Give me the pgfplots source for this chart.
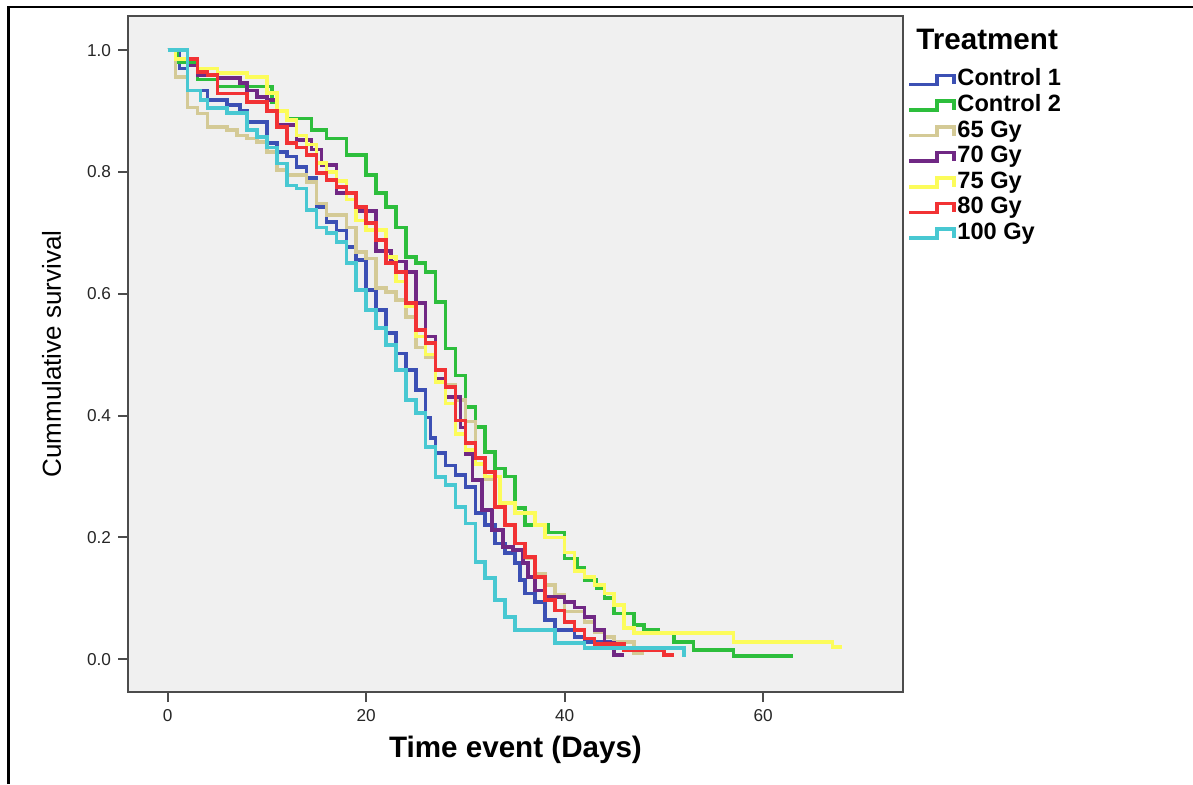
\documentclass[border=0pt]{standalone}
\usepackage{pgfplots}
\pgfplotsset{compat=1.18}
\usepackage{fontspec}
\setmainfont{Liberation Sans}
\definecolor{cA}{RGB}{60,80,180}
\definecolor{cB}{RGB}{45,190,60}
\definecolor{cC}{RGB}{212,202,150}
\definecolor{cD}{RGB}{112,40,132}
\definecolor{cE}{RGB}{252,252,90}
\definecolor{cF}{RGB}{242,50,52}
\definecolor{cG}{RGB}{72,200,210}
\definecolor{bgc}{RGB}{240,240,240}
\pgfplotsset{
  km/.style={const plot, line width=1.8pt, line join=miter,
    legend image code/.code={\draw[##1, line width=1.8pt] (0pt,-2.2pt) -- (14pt,-2.2pt) -- (14pt,2.2pt) -- (22.5pt,2.2pt) -- (22.5pt,-2.2pt);}},
}
\begin{document}
\begin{tikzpicture}
\useasboundingbox (0pt,0pt) rectangle (596.5pt,392pt);
\draw[line width=1.2pt] (4.3pt,0pt) -- (4.3pt,388.6pt) -- (596.5pt,388.6pt);
\begin{axis}[
  at={(64pt,46pt)}, anchor=south west,
  scale only axis, width=387.5pt, height=338pt,
  xmin=-4, xmax=74.1, ymin=-0.054, ymax=1.056,
  xtick={0,20,40,60}, ytick={0,0.2,0.4,0.6,0.8,1.0},
  yticklabel style={/pgf/number format/.cd, fixed, fixed zerofill, precision=1},
  /pgf/number format/assume math mode=true,
  ticklabel style={font=\fontsize{8.6}{10}\selectfont, color=black!85},
  tick align=outside, tick pos=left, major tick length=5pt,
  tick style={line width=1pt, black!70},
  axis line style={line width=1pt, black!70},
  axis background/.style={fill=bgc},
  xlabel={Time event (Days)}, ylabel={Cummulative survival},
  x label style={at={(axis description cs:0.5,-0.0858)}, anchor=center, font=\bfseries\fontsize{14.8}{16}\selectfont},
  y label style={at={(axis description cs:-0.0985,0.5)}, anchor=center, font=\fontsize{13}{15}\selectfont},
  legend style={at={(1.005,0.925)}, anchor=north west, draw=none, fill=none,
    font=\bfseries\fontsize{11.8}{13}\selectfont, row sep=0pt, inner sep=0pt,
    nodes={inner sep=0.8pt, text height=8.6pt, text depth=2.6pt},
    /tikz/every even column/.append style={column sep=0pt}},
  legend cell align=left,
  clip=false,
]
\addplot[km, color=cA] coordinates {(0,1.0) (1.2,0.97) (2,0.934) (4,0.918) (6,0.91) (7.3,0.90) (8,0.882) (10,0.847) (11,0.833) (12,0.825) (13,0.808) (14,0.79) (15,0.742) (16,0.718) (17,0.704) (18,0.677) (19,0.655) (20,0.606) (21,0.573) (22,0.535) (23,0.502) (24,0.475) (25,0.442) (26,0.397) (26.5,0.363) (27,0.338) (28,0.318) (29,0.302) (30,0.283) (31,0.24) (32,0.22) (33,0.19) (34,0.174) (35,0.158) (35.5,0.13) (36,0.108) (37,0.094) (38,0.064) (39,0.048) (41,0.036) (42,0.028) (46.5,0.028)};
\addlegendentry{Control 1}
\addplot[km, color=cB] coordinates {(0,1.0) (1,0.98) (3,0.952) (5,0.94) (10.5,0.915) (11,0.90) (12,0.888) (14.5,0.869) (16,0.855) (18,0.828) (20,0.795) (21,0.765) (22,0.742) (23,0.709) (24,0.66) (25,0.65) (26,0.636) (27,0.586) (28,0.51) (29,0.466) (30,0.414) (31,0.381) (32,0.34) (33,0.313) (34,0.30) (35,0.248) (36,0.22) (38.3,0.208) (40,0.165) (41.3,0.15) (42,0.13) (43.2,0.117) (44,0.10) (45,0.075) (47,0.056) (48,0.048) (49.4,0.044) (51,0.028) (53,0.015) (57,0.005) (63,0.005)};
\addlegendentry{Control 2}
\addplot[km, color=cC] coordinates {(0,1.0) (0.8,0.956) (2,0.906) (3,0.896) (4,0.874) (6,0.869) (7,0.86) (8,0.855) (9,0.849) (10,0.833) (11,0.803) (12,0.795) (14,0.783) (15,0.748) (16,0.729) (18,0.709) (19,0.668) (20,0.658) (21,0.609) (22,0.603) (23,0.59) (24,0.562) (25,0.512) (26,0.496) (27,0.475) (28,0.45) (29,0.425) (30,0.39) (31,0.33) (32,0.295) (33,0.25) (34,0.22) (35,0.19) (36,0.165) (37,0.14) (38,0.122) (39,0.105) (40,0.078) (42,0.061) (43,0.045) (44,0.036) (45,0.028) (47,0.01) (48,0.01)};
\addlegendentry{65 Gy}
\addplot[km, color=cD] coordinates {(0,1.0) (2,0.975) (3,0.959) (5,0.954) (7.3,0.946) (8,0.934) (9,0.923) (10,0.918) (11,0.877) (13,0.852) (14.5,0.837) (15.5,0.811) (17,0.765) (19,0.736) (21,0.67) (22.5,0.653) (24,0.636) (25,0.585) (26,0.53) (27,0.46) (28,0.43) (29.5,0.38) (30,0.337) (30.7,0.294) (31.7,0.245) (32.7,0.212) (33.8,0.184) (34.8,0.179) (35.8,0.158) (36.3,0.135) (37,0.113) (38,0.102) (40,0.094) (41,0.085) (42,0.069) (43,0.048) (44,0.026) (45,0.007) (46,0.007)};
\addlegendentry{70 Gy}
\addplot[km, color=cE] coordinates {(0,1.0) (0.8,0.985) (3,0.97) (5,0.962) (8,0.956) (10,0.93) (11,0.90) (12,0.885) (13,0.86) (14,0.845) (15,0.815) (16,0.80) (17,0.785) (18,0.755) (19,0.72) (20,0.705) (22,0.66) (23,0.62) (24,0.58) (25,0.53) (26,0.50) (27,0.455) (28,0.42) (29,0.37) (30,0.343) (31,0.32) (32,0.30) (33.5,0.256) (35,0.24) (37,0.22) (38,0.20) (40,0.175) (41,0.145) (42,0.135) (43,0.122) (44,0.108) (45,0.089) (46,0.051) (47,0.043) (57,0.028) (67,0.02) (68,0.02)};
\addlegendentry{75 Gy}
\addplot[km, color=cF] coordinates {(0,1.0) (2,0.985) (3,0.964) (4,0.959) (5,0.929) (8,0.915) (10,0.90) (11,0.874) (12,0.847) (13,0.84) (14,0.828) (15,0.798) (16,0.787) (17,0.775) (18,0.765) (19,0.742) (20,0.716) (21,0.688) (22,0.65) (23,0.636) (24,0.585) (25,0.54) (26,0.519) (27,0.475) (28,0.447) (29,0.392) (30,0.355) (31,0.33) (32,0.307) (33,0.25) (34,0.22) (35,0.19) (36,0.168) (37,0.135) (38,0.097) (39,0.08) (40,0.061) (41,0.048) (42,0.034) (43,0.025) (46,0.015) (50,0.007) (51,0.007)};
\addlegendentry{80 Gy}
\addplot[km, color=cG] coordinates {(0,1.0) (2,0.934) (3.3,0.918) (4,0.905) (6,0.897) (8,0.869) (9,0.857) (10,0.84) (11,0.814) (12,0.778) (13,0.773) (14,0.737) (15,0.709) (16,0.70) (17,0.685) (18,0.65) (19,0.606) (20,0.573) (21,0.544) (22,0.516) (23,0.475) (24,0.425) (25,0.404) (26,0.348) (27,0.299) (28,0.286) (29,0.25) (30,0.223) (31,0.159) (32,0.133) (33,0.097) (34,0.069) (35,0.048) (39,0.026) (42,0.018) (52,0.003)};
\addlegendentry{100 Gy}
\node[anchor=west, font=\bfseries\fontsize{14.8}{16}\selectfont, inner sep=0pt] at (axis description cs:1.0168,0.966) {Treatment};
\end{axis}
\end{tikzpicture}
\end{document}
